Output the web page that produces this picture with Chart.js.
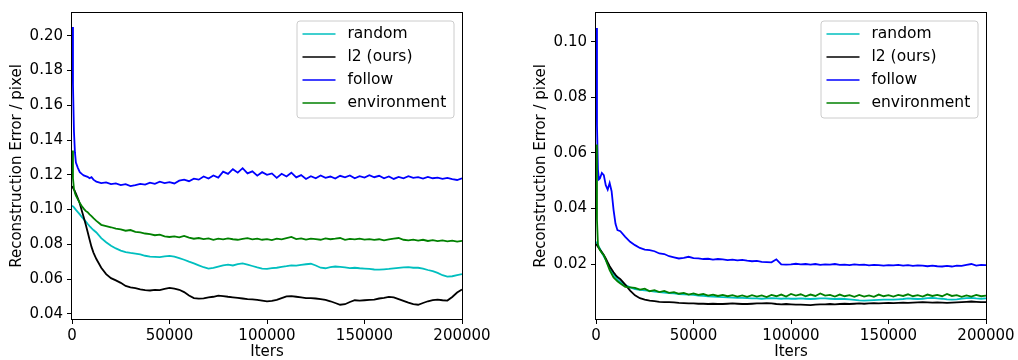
<!DOCTYPE html>
<html>
<head>
<meta charset="utf-8">
<script src="https://cdn.jsdelivr.net/npm/chart.js@4.4.1/dist/chart.umd.min.js"></script>
<style>
  html, body { margin: 0; padding: 0; background: #fff; }
  #wrap { position: relative; width: 1018px; height: 360px; }
  canvas { position: absolute; top: 0; }
</style>
</head>
<body>
<div id="wrap">
  <canvas id="leftChart" width="509" height="360" style="left:0"></canvas>
  <canvas id="rightChart" width="509" height="360" style="left:509px"></canvas>
</div>
<script>
// x positions (training iterations) shared by both panels
const iters = [
  0, 500, 1000, 1500, 2000, 3000, 4000, 5000, 6000, 7000,
  8000, 9000, 10000, 11000, 12500, 15000, 17500, 20000, 22500, 25000,
  27500, 30000, 32500, 35000, 37500, 40000, 42500, 45000, 47500, 50000,
  52500, 55000, 57500, 60000, 62500, 65000, 67500, 70000, 72500, 75000,
  77500, 80000, 82500, 85000, 87500, 90000, 92500, 95000, 97500, 100000,
  102500, 105000, 107500, 110000, 112500, 115000, 117500, 120000, 122500, 125000,
  127500, 130000, 132500, 135000, 137500, 140000, 142500, 145000, 147500, 150000,
  152500, 155000, 157500, 160000, 162500, 165000, 167500, 170000, 172500, 175000,
  177500, 180000, 182500, 185000, 187500, 190000, 192500, 195000, 197500, 200000
];

const xTicks = [0, 50000, 100000, 150000, 200000];
const leftYTicks = [0.04, 0.06, 0.08, 0.10, 0.12, 0.14, 0.16, 0.18, 0.20];
const rightYTicks = [0.02, 0.04, 0.06, 0.08, 0.10];

const labels = ["random", "l2 (ours)", "follow", "environment"];
const colors = ["#00bfbf", "#000000", "#0000ff", "#008000"];

// left panel
const leftRandom = [
  0.1022, 0.1018, 0.1012, 0.1005, 0.0998, 0.0985, 0.0972, 0.0958, 0.0945, 0.0932,
  0.0918, 0.0905, 0.0893, 0.0882, 0.0868, 0.0835, 0.0812, 0.0792, 0.0776, 0.0764,
  0.0755, 0.0750, 0.0746, 0.0742, 0.0734, 0.0729, 0.0728, 0.0726, 0.0730, 0.0733,
  0.0729, 0.0720, 0.0711, 0.0700, 0.0690, 0.0679, 0.0668, 0.0660, 0.0664, 0.0672,
  0.0679, 0.0683, 0.0678, 0.0686, 0.0690, 0.0683, 0.0675, 0.0667, 0.0660, 0.0658,
  0.0663, 0.0665, 0.0670, 0.0674, 0.0679, 0.0677, 0.0682, 0.0685, 0.0688, 0.0678,
  0.0665, 0.0662, 0.0668, 0.0672, 0.0670, 0.0667, 0.0663, 0.0665, 0.0662, 0.0660,
  0.0658, 0.0655, 0.0654, 0.0656, 0.0658, 0.0661, 0.0664, 0.0667, 0.0668, 0.0665,
  0.0665, 0.0660, 0.0652, 0.0645, 0.0635, 0.0622, 0.0614, 0.0616, 0.0622, 0.0628
];
const leftL2 = [
  0.1135, 0.1125, 0.1115, 0.1105, 0.1092, 0.1065, 0.1035, 0.0995, 0.0955, 0.0915,
  0.0872, 0.0828, 0.0785, 0.0752, 0.0715, 0.0665, 0.0628, 0.0605, 0.0592, 0.0578,
  0.0560, 0.0552, 0.0548, 0.0541, 0.0536, 0.0534, 0.0538, 0.0536, 0.0544, 0.0549,
  0.0545, 0.0538, 0.0525, 0.0505, 0.0490, 0.0487, 0.0489, 0.0495, 0.0498, 0.0505,
  0.0502, 0.0498, 0.0495, 0.0492, 0.0488, 0.0484, 0.0483, 0.0480, 0.0476, 0.0471,
  0.0474, 0.0480, 0.0490, 0.0500, 0.0502, 0.0498, 0.0494, 0.0490, 0.0490, 0.0488,
  0.0485, 0.0480, 0.0472, 0.0462, 0.0452, 0.0455, 0.0468, 0.0478, 0.0476, 0.0478,
  0.0480, 0.0482, 0.0488, 0.0492, 0.0497, 0.0494, 0.0484, 0.0474, 0.0464, 0.0455,
  0.0452, 0.0462, 0.0472, 0.0478, 0.0482, 0.0478, 0.0476, 0.0497, 0.0522, 0.0540
];
const leftFollow = [
  0.2050, 0.1720, 0.1450, 0.1330, 0.1270, 0.1240, 0.1215, 0.1205, 0.1196, 0.1192,
  0.1188, 0.1180, 0.1186, 0.1172, 0.1160, 0.1152, 0.1156, 0.1146, 0.1150, 0.1141,
  0.1146, 0.1135, 0.1140, 0.1148, 0.1143, 0.1155, 0.1148, 0.1160, 0.1152, 0.1158,
  0.1150, 0.1166, 0.1172, 0.1163, 0.1178, 0.1172, 0.1190, 0.1178, 0.1196, 0.1184,
  0.1218, 0.1205, 0.1232, 0.1212, 0.1238, 0.1208, 0.1220, 0.1195, 0.1215, 0.1200,
  0.1208, 0.1182, 0.1206, 0.1190, 0.1212, 0.1185, 0.1198, 0.1176, 0.1192, 0.1180,
  0.1196, 0.1182, 0.1190, 0.1178, 0.1194, 0.1185, 0.1196, 0.1180, 0.1192, 0.1184,
  0.1198, 0.1186, 0.1194, 0.1180, 0.1190, 0.1176, 0.1188, 0.1180, 0.1192, 0.1182,
  0.1186, 0.1178, 0.1188, 0.1180, 0.1184, 0.1176, 0.1182, 0.1175, 0.1170, 0.1180
];
const leftEnv = [
  0.1340, 0.1180, 0.1120, 0.1095, 0.1080, 0.1058, 0.1038, 0.1020, 0.1005, 0.0992,
  0.0985, 0.0972, 0.0962, 0.0950, 0.0935, 0.0912, 0.0905, 0.0898, 0.0890, 0.0886,
  0.0878, 0.0882, 0.0872, 0.0868, 0.0862, 0.0858, 0.0852, 0.0855, 0.0846, 0.0842,
  0.0845, 0.0840, 0.0848, 0.0838, 0.0832, 0.0836, 0.0830, 0.0834, 0.0826, 0.0832,
  0.0828, 0.0834, 0.0829, 0.0826, 0.0831, 0.0835, 0.0828, 0.0833, 0.0826, 0.0830,
  0.0824, 0.0832, 0.0828, 0.0836, 0.0842, 0.0830, 0.0834, 0.0827, 0.0832, 0.0830,
  0.0826, 0.0834, 0.0829, 0.0832, 0.0836, 0.0826, 0.0831, 0.0828, 0.0833, 0.0827,
  0.0830, 0.0825, 0.0829, 0.0823, 0.0828, 0.0832, 0.0836, 0.0826, 0.0822, 0.0827,
  0.0821, 0.0826, 0.0819, 0.0824, 0.0818, 0.0822, 0.0817, 0.0821, 0.0815, 0.0820
];

// right panel
const rightRandom = [
  0.0280, 0.0276, 0.0270, 0.0262, 0.0255, 0.0240, 0.0228, 0.0215, 0.0200, 0.0186,
  0.0174, 0.0163, 0.0153, 0.0145, 0.0135, 0.0124, 0.0116, 0.0110, 0.0107, 0.0105,
  0.0103, 0.0101, 0.0099, 0.0097, 0.0095, 0.0094, 0.0092, 0.0091, 0.0090, 0.0089,
  0.0086, 0.0085, 0.0084, 0.0083, 0.0082, 0.0081, 0.0080, 0.0079, 0.0078, 0.0078,
  0.0077, 0.0076, 0.0076, 0.0075, 0.0076, 0.0077, 0.0076, 0.0075, 0.0076, 0.0075,
  0.0075, 0.0076, 0.0075, 0.0074, 0.0075, 0.0076, 0.0076, 0.0075, 0.0074, 0.0075,
  0.0074, 0.0073, 0.0071, 0.0069, 0.0068, 0.0069, 0.0070, 0.0071, 0.0072, 0.0072,
  0.0072, 0.0073, 0.0074, 0.0076, 0.0075, 0.0074, 0.0075, 0.0077, 0.0078, 0.0076,
  0.0075, 0.0073, 0.0072, 0.0073, 0.0075, 0.0077, 0.0078, 0.0076, 0.0075, 0.0076
];
const rightL2 = [
  0.0272, 0.0268, 0.0262, 0.0257, 0.0252, 0.0243, 0.0233, 0.0220, 0.0206, 0.0192,
  0.0181, 0.0170, 0.0161, 0.0153, 0.0145, 0.0126, 0.0104, 0.0087, 0.0077, 0.0072,
  0.0068, 0.0066, 0.0064, 0.0063, 0.0063, 0.0062, 0.0060, 0.0059, 0.0058, 0.0058,
  0.0057, 0.0057, 0.0056, 0.0057, 0.0056, 0.0056, 0.0057, 0.0058, 0.0057, 0.0056,
  0.0056, 0.0057, 0.0058, 0.0058, 0.0059, 0.0058, 0.0056, 0.0055, 0.0056, 0.0055,
  0.0054, 0.0054, 0.0053, 0.0052, 0.0054, 0.0055, 0.0055, 0.0056, 0.0055, 0.0056,
  0.0057, 0.0056, 0.0057, 0.0058, 0.0057, 0.0058, 0.0059, 0.0058, 0.0059, 0.0060,
  0.0059, 0.0060, 0.0061, 0.0060, 0.0061, 0.0062, 0.0063, 0.0062, 0.0061, 0.0062,
  0.0061, 0.0060, 0.0061, 0.0062, 0.0063, 0.0064, 0.0065, 0.0064, 0.0063, 0.0063
];
const rightFollow = [
  0.1050, 0.0700, 0.0540, 0.0505, 0.0508, 0.0528, 0.0520, 0.0484, 0.0468, 0.0492,
  0.0462, 0.0395, 0.0345, 0.0322, 0.0318, 0.0298, 0.0280, 0.0268, 0.0258, 0.0252,
  0.0250, 0.0246, 0.0238, 0.0236, 0.0228, 0.0224, 0.0220, 0.0222, 0.0226, 0.0221,
  0.0220, 0.0218, 0.0219, 0.0216, 0.0218, 0.0217, 0.0214, 0.0216, 0.0213, 0.0215,
  0.0212, 0.0210, 0.0211, 0.0208, 0.0207, 0.0206, 0.0217, 0.0199, 0.0198, 0.0199,
  0.0201, 0.0199, 0.0200, 0.0198, 0.0200, 0.0197, 0.0199, 0.0198, 0.0200, 0.0197,
  0.0198, 0.0196, 0.0199, 0.0197, 0.0198, 0.0195, 0.0197, 0.0196, 0.0194, 0.0196,
  0.0195, 0.0197, 0.0194, 0.0196, 0.0193, 0.0195, 0.0194, 0.0192, 0.0194, 0.0192,
  0.0191, 0.0193, 0.0191, 0.0194, 0.0193, 0.0197, 0.0200, 0.0194, 0.0197, 0.0196
];
const rightEnv = [
  0.0630, 0.0360, 0.0268, 0.0258, 0.0250, 0.0240, 0.0232, 0.0215, 0.0197, 0.0178,
  0.0165, 0.0152, 0.0145, 0.0138, 0.0130, 0.0118, 0.0116, 0.0114, 0.0108, 0.0111,
  0.0102, 0.0106, 0.0099, 0.0103, 0.0096, 0.0099, 0.0093, 0.0096, 0.0090, 0.0094,
  0.0089, 0.0092, 0.0086, 0.0090, 0.0085, 0.0089, 0.0084, 0.0088, 0.0083, 0.0087,
  0.0082, 0.0088, 0.0083, 0.0087, 0.0081, 0.0089, 0.0084, 0.0090, 0.0083, 0.0092,
  0.0086, 0.0091, 0.0084, 0.0090, 0.0085, 0.0094, 0.0086, 0.0089, 0.0083, 0.0090,
  0.0084, 0.0088, 0.0082, 0.0089, 0.0083, 0.0087, 0.0082, 0.0090, 0.0084, 0.0088,
  0.0083, 0.0089, 0.0085, 0.0091, 0.0084, 0.0088, 0.0083, 0.0090, 0.0085, 0.0089,
  0.0084, 0.0092, 0.0085, 0.0088, 0.0082, 0.0087, 0.0083, 0.0089, 0.0084, 0.0086
];

const FONT = { family: "'DejaVu Sans', sans-serif", size: 15, lineHeight: 1.2 };

// black box around the plot, like matplotlib spines
const framePlugin = {
  id: "frame",
  afterDatasetsDraw(chart) {
    const { ctx, chartArea: a } = chart;
    ctx.save();
    ctx.strokeStyle = "#000";
    ctx.lineWidth = 1;
    ctx.strokeRect(a.left - 0.5, a.top - 0.5, a.right - a.left + 1, a.bottom - a.top + 1);
    ctx.restore();
  },
};

// legend box in the upper right corner of the plot
const legendPlugin = {
  id: "mplLegend",
  afterDraw(chart) {
    const { ctx, chartArea: a } = chart;
    const w = 157, h = 97, r = 3;
    const x0 = a.right - 8 - w, y0 = a.top + 8;
    ctx.save();
    ctx.beginPath();
    ctx.moveTo(x0 + r, y0);
    ctx.lineTo(x0 + w - r, y0);
    ctx.arcTo(x0 + w, y0, x0 + w, y0 + r, r);
    ctx.lineTo(x0 + w, y0 + h - r);
    ctx.arcTo(x0 + w, y0 + h, x0 + w - r, y0 + h, r);
    ctx.lineTo(x0 + r, y0 + h);
    ctx.arcTo(x0, y0 + h, x0, y0 + h - r, r);
    ctx.lineTo(x0, y0 + r);
    ctx.arcTo(x0, y0, x0 + r, y0, r);
    ctx.closePath();
    ctx.fillStyle = "rgba(255,255,255,0.8)";
    ctx.fill();
    ctx.strokeStyle = "#cccccc";
    ctx.lineWidth = 1;
    ctx.stroke();

    ctx.font = "15.5px 'DejaVu Sans', sans-serif";
    ctx.textBaseline = "middle";
    ctx.textAlign = "left";
    chart.data.datasets.forEach((ds, i) => {
      const y = y0 + 13 + i * 23;
      ctx.beginPath();
      ctx.strokeStyle = ds.borderColor;
      ctx.lineWidth = 1.7;
      ctx.moveTo(x0 + 5.5, y);
      ctx.lineTo(x0 + 38.5, y);
      ctx.stroke();
      ctx.fillStyle = "#000";
      ctx.fillText(ds.label, x0 + 50.5, y);
    });
    ctx.restore();
  },
};

function makeChart(id, values, yMin, yMax, yTicks, yAxisW, titlePad, padRight) {
  const canvas = document.getElementById(id);
  return new Chart(canvas, {
    type: "line",
    data: {
      datasets: values.map((vals, i) => ({
        label: labels[i],
        data: iters.map((x, j) => ({ x: x, y: vals[j] })),
        borderColor: colors[i],
        backgroundColor: colors[i],
        borderWidth: 1.8,
        pointRadius: 0,
        tension: 0,
        fill: false,
        order: values.length - i,
      })),
    },
    options: {
      responsive: false,
      animation: false,
      events: [],
      layout: { padding: { top: 8, right: padRight, left: 0, bottom: 0 } },
      plugins: { legend: { display: false }, tooltip: { enabled: false } },
      scales: {
        x: {
          type: "linear",
          min: 0,
          max: 200000,
          afterBuildTicks: (s) => { s.ticks = xTicks.map((v) => ({ value: v })); },
          afterFit: (s) => { s.height = 41; },
          grid: { drawOnChartArea: false, tickLength: 5, tickColor: "#000", tickWidth: 1 },
          border: { display: false },
          ticks: { color: "#000", font: FONT, padding: 3, maxRotation: 0, autoSkip: false, callback: (v) => String(v) },
          title: { display: true, text: "Iters", color: "#000", font: { family: FONT.family, size: 15, lineHeight: 1.0 }, padding: { top: 0, bottom: 0 } },
        },
        y: {
          type: "linear",
          min: yMin,
          max: yMax,
          afterBuildTicks: (s) => { s.ticks = yTicks.map((v) => ({ value: v })); },
          afterFit: (s) => { s.width = yAxisW; },
          grid: { drawOnChartArea: false, tickLength: 5, tickColor: "#000", tickWidth: 1 },
          border: { display: false },
          ticks: { color: "#000", font: FONT, padding: 4, autoSkip: false, callback: (v) => v.toFixed(2) },
          title: { display: true, text: "Reconstruction Error / pixel", color: "#000", font: FONT, padding: { top: titlePad, bottom: 0 } },
        },
      },
    },
    plugins: [framePlugin, legendPlugin],
  });
}

makeChart("leftChart", [leftRandom, leftL2, leftFollow, leftEnv], 0.0370, 0.2131, leftYTicks, 72, 8, 47);
makeChart("rightChart", [rightRandom, rightL2, rightFollow, rightEnv], 0.0002, 0.1104, rightYTicks, 87, 23, 32);
</script>
</body>
</html>
